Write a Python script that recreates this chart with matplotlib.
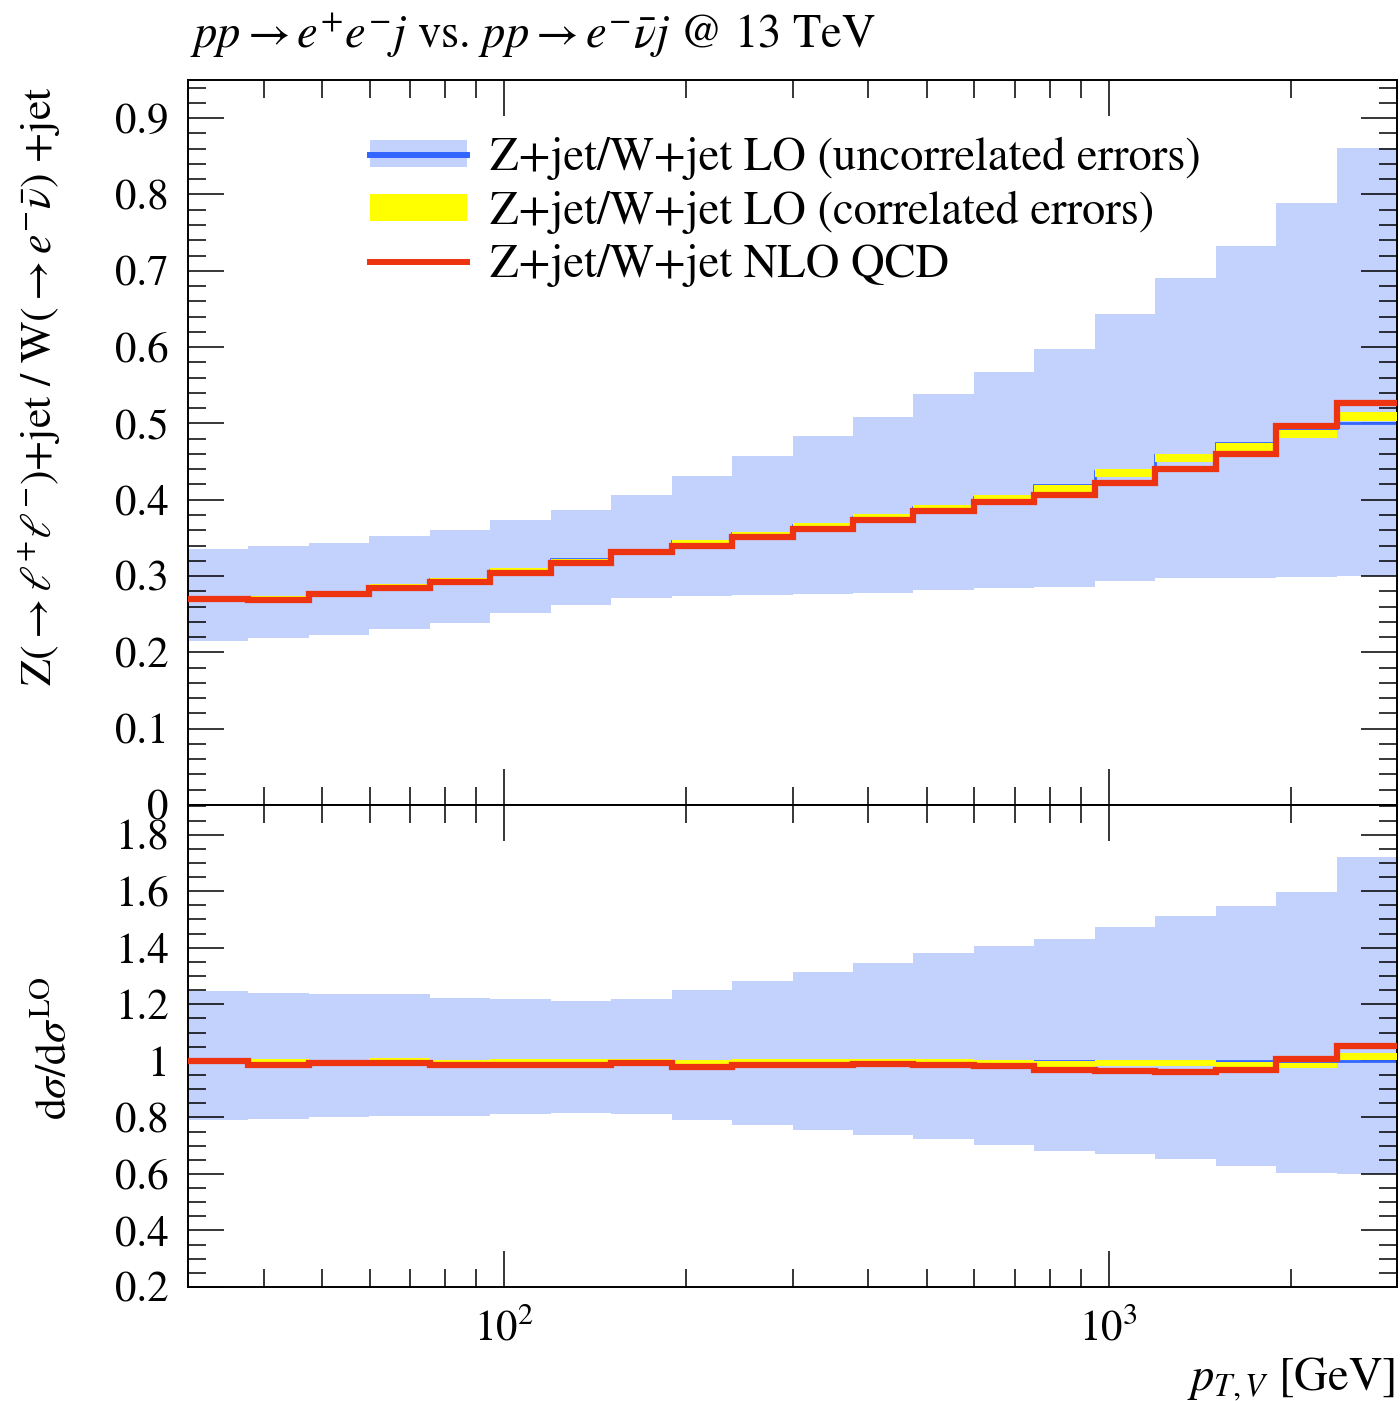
import matplotlib
matplotlib.use('Agg')
import matplotlib.pyplot as plt
from matplotlib.patches import Patch
from matplotlib.lines import Line2D
from matplotlib.legend_handler import HandlerTuple
from matplotlib.ticker import MultipleLocator, FormatStrFormatter, LogLocator, NullFormatter

plt.rcParams['font.family'] = ['STIXGeneral', 'DejaVu Serif']
plt.rcParams['mathtext.fontset'] = 'stix'

# ---------------- data ----------------
bin_edges = [30.0, 37.77, 47.55, 59.86, 75.36, 94.87, 119.43, 150.36, 189.29, 238.30,
             300.0, 377.67, 475.46, 598.57, 753.56, 948.68, 1194.3, 1503.6, 1892.9, 2383.0, 3000.0]

# upper panel: Z+jet / W+jet ratio
lo_central = [0.270, 0.273, 0.279, 0.286, 0.296, 0.308, 0.322, 0.334, 0.346, 0.356,
              0.367, 0.378, 0.391, 0.404, 0.419, 0.438, 0.458, 0.475, 0.494, 0.501]
nlo_qcd = [0.270, 0.269, 0.276, 0.284, 0.292, 0.304, 0.317, 0.331, 0.339, 0.351,
           0.362, 0.373, 0.385, 0.397, 0.406, 0.422, 0.440, 0.460, 0.497, 0.527]
unc_hi = [0.336, 0.339, 0.343, 0.352, 0.361, 0.374, 0.387, 0.406, 0.431, 0.457,
          0.483, 0.508, 0.538, 0.568, 0.598, 0.643, 0.690, 0.733, 0.789, 0.861]
unc_lo = [0.215, 0.219, 0.223, 0.230, 0.238, 0.251, 0.262, 0.271, 0.274, 0.275,
          0.277, 0.278, 0.282, 0.284, 0.286, 0.293, 0.298, 0.298, 0.299, 0.300]
corr_lo = [0.267, 0.271, 0.277, 0.285, 0.294, 0.306, 0.319, 0.332, 0.343, 0.354,
           0.365, 0.376, 0.388, 0.400, 0.410, 0.430, 0.450, 0.464, 0.481, 0.503]
corr_hi = [0.270, 0.274, 0.280, 0.289, 0.297, 0.310, 0.323, 0.336, 0.347, 0.358,
           0.369, 0.381, 0.393, 0.406, 0.419, 0.440, 0.460, 0.474, 0.491, 0.515]

# lower panel: ratio to LO
ratio_lo = [1.0, 1.0, 1.0, 1.0, 1.0, 1.0, 1.0, 1.0, 1.0, 1.0,
            1.0, 1.0, 1.0, 1.0, 1.0, 1.0, 1.0, 1.0, 1.0, 1.0]
ratio_nlo = [1.001, 0.985, 0.991, 0.992, 0.987, 0.986, 0.986, 0.991, 0.979, 0.985,
             0.986, 0.988, 0.986, 0.983, 0.968, 0.964, 0.961, 0.968, 1.006, 1.051]
ratio_unc_hi = [1.248, 1.241, 1.235, 1.237, 1.223, 1.219, 1.210, 1.217, 1.250, 1.283,
                1.315, 1.346, 1.382, 1.408, 1.431, 1.474, 1.513, 1.546, 1.599, 1.722]
ratio_unc_lo = [0.791, 0.796, 0.800, 0.805, 0.805, 0.812, 0.815, 0.812, 0.791, 0.772,
                0.755, 0.736, 0.722, 0.703, 0.681, 0.670, 0.652, 0.627, 0.605, 0.598]
ratio_corr_lo = [0.990, 0.993, 0.993, 0.995, 0.993, 0.993, 0.993, 0.995, 0.990, 0.993,
                 0.994, 0.996, 0.994, 0.990, 0.979, 0.982, 0.982, 0.976, 0.974, 1.003]
ratio_corr_hi = [1.000, 1.005, 1.004, 1.009, 1.004, 1.006, 1.005, 1.006, 1.003, 1.006,
                 1.006, 1.008, 1.006, 1.004, 1.000, 1.004, 1.004, 0.997, 0.994, 1.027]

labels = ['Z+jet/W+jet LO (uncorrelated errors)',
          'Z+jet/W+jet LO (correlated errors)',
          'Z+jet/W+jet NLO QCD']

# ---------------- style ----------------
c_band = '#c3d1fd'
c_blue = '#3366ff'
c_yellow = '#ffff00'
c_red = '#ee3311'
FS = 33.5
FS_TICK = 31
FS_YLAB = 31.5

fig = plt.figure(figsize=(14, 14.01), dpi=100)
ax1 = fig.add_axes([188/1400, 1-805/1401, (1397-188)/1400, (805-80)/1401])
ax2 = fig.add_axes([188/1400, 1-1287/1401, (1397-188)/1400, (1287-805)/1401])


def draw(ax, lo, hi, central, clo, chi, nlo):
    ax.stairs(hi, bin_edges, baseline=lo, fill=True, color=c_band, lw=0, zorder=1)
    ax.stairs(central, bin_edges, baseline=None, color=c_blue, lw=2.0, zorder=2)
    ax.stairs(chi, bin_edges, baseline=clo, fill=True, color=c_yellow, lw=0, zorder=3)
    ax.stairs(nlo, bin_edges, baseline=None, color=c_red, lw=4.5, zorder=4)


draw(ax1, unc_lo, unc_hi, lo_central, corr_lo, corr_hi, nlo_qcd)
draw(ax2, ratio_unc_lo, ratio_unc_hi, ratio_lo, ratio_corr_lo, ratio_corr_hi, ratio_nlo)

for ax in (ax1, ax2):
    ax.set_xscale('log')
    ax.set_xlim(30, 3000)
    ax.xaxis.set_major_locator(LogLocator(base=10, numticks=10))
    ax.xaxis.set_minor_locator(LogLocator(base=10, subs=[2, 3, 4, 5, 6, 7, 8, 9], numticks=20))
    ax.xaxis.set_minor_formatter(NullFormatter())
    ax.tick_params(which='both', direction='in', top=True, right=True, width=1.1,
                   labelsize=FS_TICK, pad=14, colors='black')
    ax.tick_params(which='major', length=26)
    ax.tick_params(which='minor', length=13)
    ax.tick_params(axis='x', which='major', pad=15)
    for s in ax.spines.values():
        s.set_linewidth(1.4)

ax1.set_ylim(0, 0.95)
ax1.yaxis.set_major_locator(MultipleLocator(0.1))
ax1.yaxis.set_minor_locator(MultipleLocator(0.02))
ax1.yaxis.set_major_formatter(FormatStrFormatter('%g'))
ax1.tick_params(axis='x', labelbottom=False)

ax2.set_ylim(0.2, 1.905)
ax2.yaxis.set_major_locator(MultipleLocator(0.2))
ax2.yaxis.set_minor_locator(MultipleLocator(0.05))
ax2.yaxis.set_major_formatter(FormatStrFormatter('%g'))

# legend
h_blue = (Patch(facecolor=c_band, edgecolor='none'), Line2D([], [], color=c_blue, lw=4.3))
h_yellow = Patch(facecolor=c_yellow, edgecolor='none')
h_red = Line2D([], [], color=c_red, lw=4.3)
ax1.legend([h_blue, h_yellow, h_red], labels, loc='upper left',
           bbox_to_anchor=((370-188)/1209, (805-137)/725), frameon=False,
           fontsize=FS, handlelength=2.08, handleheight=0.52, handletextpad=0.5,
           labelspacing=0.22, borderpad=0, borderaxespad=0,
           handler_map={tuple: HandlerTuple(ndivide=1, pad=0)})

# texts
fig.text(190/1400, 1-48/1401, r'$pp \rightarrow e^{+}e^{-}j$ vs. $pp \rightarrow e^{-}\bar{\nu}j$ @ 13 TeV',
         fontsize=FS, ha='left', va='baseline')
fig.text(40/1400, 1-386/1401, r'Z($\rightarrow \ell^{+}\ell^{-}$)+jet / W($\rightarrow e^{-}\bar{\nu}$) +jet',
         fontsize=FS_YLAB, rotation=90, ha='center', va='center')
fig.text(55/1400, 1-1048/1401, r'd$\sigma$/d$\sigma^{\mathrm{LO}}$',
         fontsize=FS_YLAB, rotation=90, ha='center', va='center')
fig.text(1395/1400, 1-1390/1401, r'$p_{T,V}$ [GeV]', fontsize=FS, ha='right', va='baseline')

fig.savefig('out.png', dpi=100)
